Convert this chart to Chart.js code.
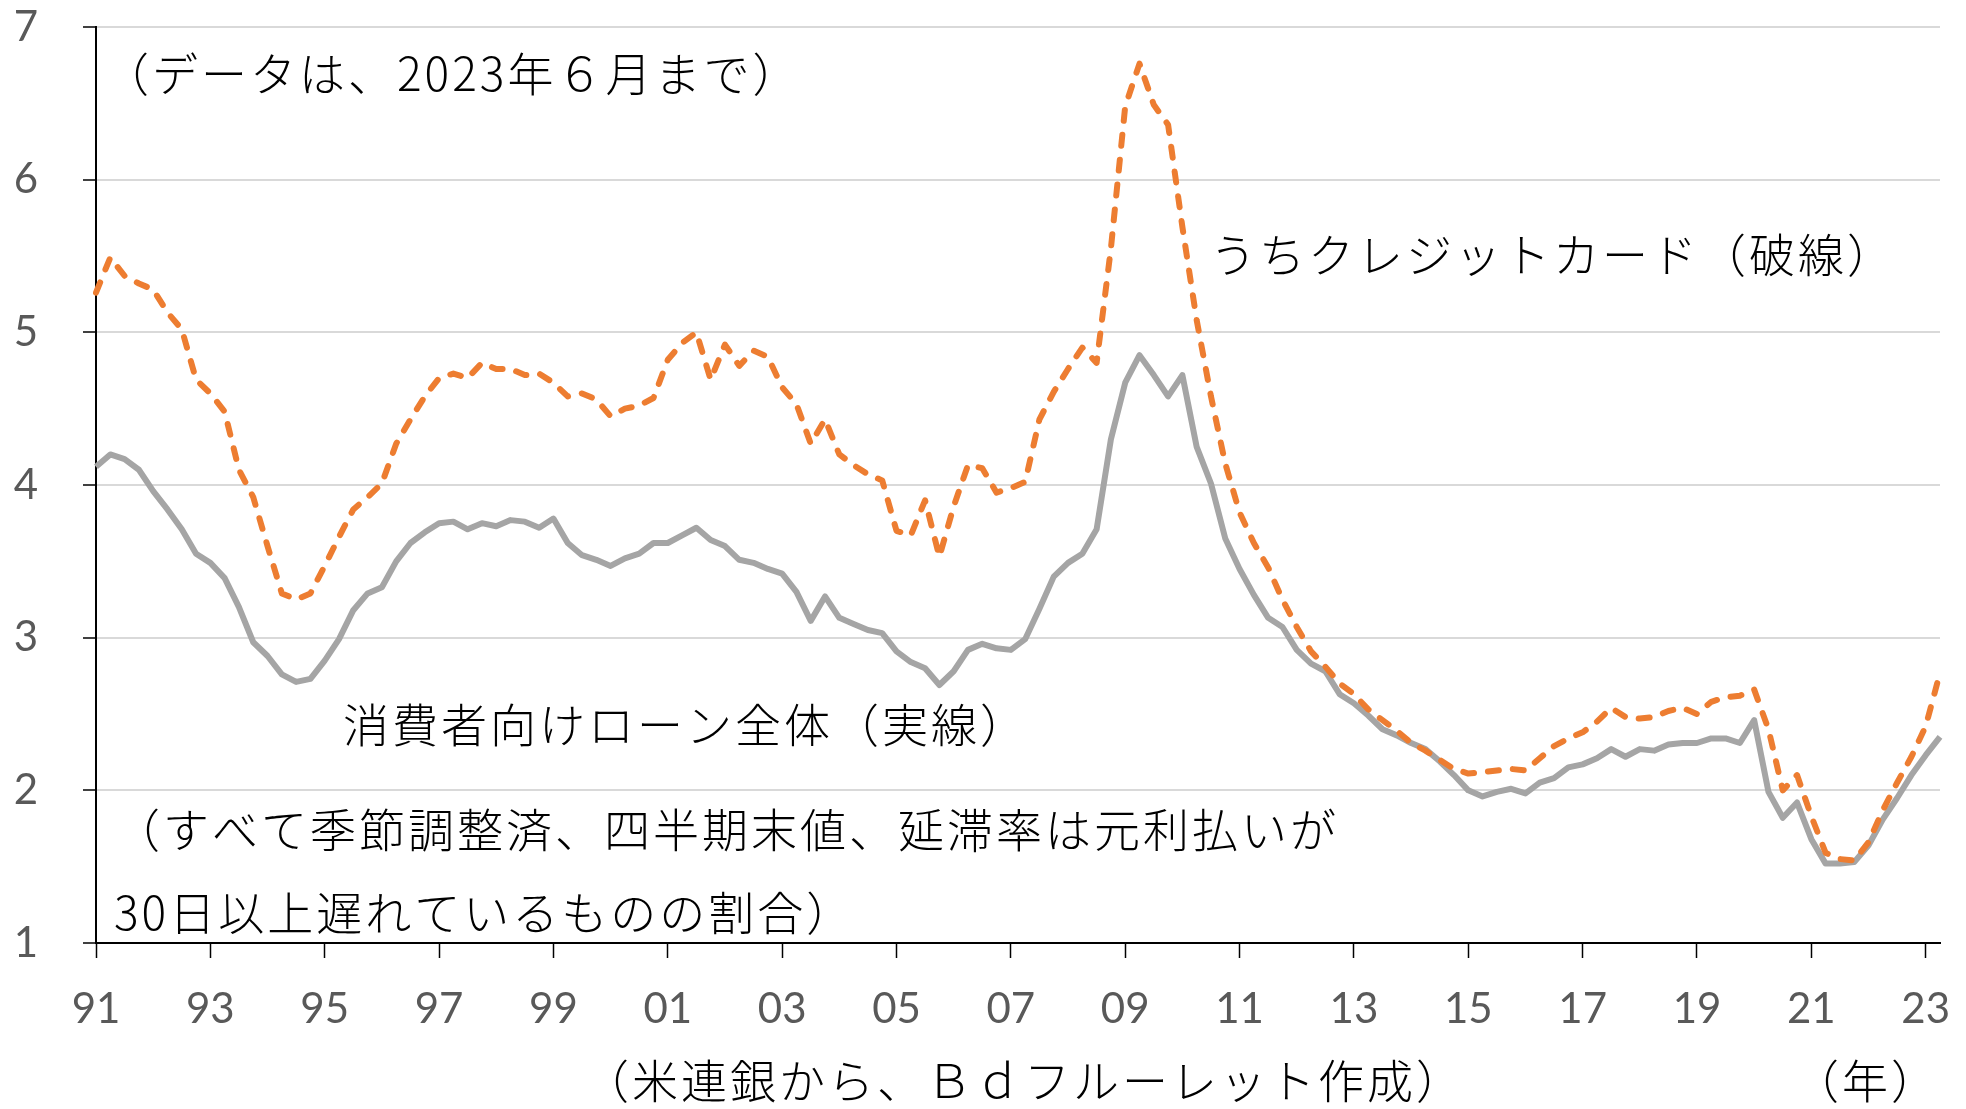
<!DOCTYPE html>
<html lang="ja">
<head>
<meta charset="utf-8">
<title>消費者向けローン延滞率</title>
<script src="https://cdn.jsdelivr.net/npm/chart.js@4.4.0/dist/chart.umd.min.js"></script>
<style>
  html, body { margin: 0; padding: 0; background: #fff; }
  #chart { display: block; }
</style>
</head>
<body>
<canvas id="chart" width="1966" height="1109"></canvas>
<script>
// quarterly, 1991Q1 .. 2023Q2
const firstYear = 1991;
const lastYear = 2023;
const lastQuarter = 2;
const quarters = [];
for (let y = firstYear; y <= lastYear; y++) {
  for (let q = 1; q <= 4; q++) {
    if (y === lastYear && q > lastQuarter) break;
    quarters.push(y + 'Q' + q);
  }
}

// tick every 2 years (8 quarters)
const yearTicks = ['91', '93', '95', '97', '99', '01', '03', '05', '07', '09', '11', '13', '15', '17', '19', '21', '23'];

// 消費者向けローン全体 (%)
const consumerLoans = [
  4.12, 4.20, 4.17, 4.10, 3.96, 3.84, 3.71, 3.55, 3.49, 3.39,
  3.20, 2.97, 2.88, 2.76, 2.71, 2.73, 2.85, 2.99, 3.18, 3.29,
  3.33, 3.50, 3.62, 3.69, 3.75, 3.76, 3.71, 3.75, 3.73, 3.77,
  3.76, 3.72, 3.78, 3.62, 3.54, 3.51, 3.47, 3.52, 3.55, 3.62,
  3.62, 3.67, 3.72, 3.64, 3.60, 3.51, 3.49, 3.45, 3.42, 3.30,
  3.11, 3.27, 3.13, 3.09, 3.05, 3.03, 2.91, 2.84, 2.80, 2.69,
  2.78, 2.92, 2.96, 2.93, 2.92, 2.99, 3.19, 3.40, 3.49, 3.55,
  3.71, 4.30, 4.67, 4.85, 4.72, 4.58, 4.72, 4.25, 4.01, 3.65,
  3.45, 3.28, 3.13, 3.07, 2.92, 2.83, 2.78, 2.63, 2.57, 2.49,
  2.40, 2.36, 2.31, 2.27, 2.19, 2.10, 2.00, 1.96, 1.99, 2.01,
  1.98, 2.05, 2.08, 2.15, 2.17, 2.21, 2.27, 2.22, 2.27, 2.26,
  2.30, 2.31, 2.31, 2.34, 2.34, 2.31, 2.46, 1.99, 1.82, 1.92,
  1.68, 1.52, 1.52, 1.53, 1.64, 1.81, 1.95, 2.10, 2.23, 2.35
];

// うちクレジットカード (%)
const creditCards = [
  5.26, 5.49, 5.37, 5.32, 5.28, 5.13, 5.02, 4.69, 4.60, 4.48,
  4.10, 3.92, 3.60, 3.29, 3.25, 3.29, 3.47, 3.66, 3.84, 3.92,
  4.01, 4.27, 4.43, 4.58, 4.70, 4.73, 4.70, 4.80, 4.76, 4.76,
  4.72, 4.73, 4.67, 4.58, 4.60, 4.56, 4.45, 4.50, 4.52, 4.57,
  4.82, 4.93, 5.00, 4.69, 4.92, 4.78, 4.88, 4.84, 4.64, 4.53,
  4.27, 4.43, 4.20, 4.13, 4.07, 4.03, 3.70, 3.67, 3.90, 3.53,
  3.86, 4.13, 4.11, 3.95, 3.98, 4.02, 4.43, 4.61, 4.76, 4.90,
  4.80, 5.55, 6.48, 6.76, 6.49, 6.36, 5.69, 5.08, 4.58, 4.14,
  3.82, 3.62, 3.46, 3.25, 3.07, 2.91, 2.81, 2.70, 2.63, 2.53,
  2.46, 2.39, 2.31, 2.26, 2.20, 2.14, 2.11, 2.12, 2.13, 2.14,
  2.13, 2.21, 2.29, 2.34, 2.38, 2.45, 2.54, 2.48, 2.47, 2.48,
  2.52, 2.54, 2.50, 2.58, 2.61, 2.62, 2.66, 2.40, 2.00, 2.10,
  1.83, 1.59, 1.55, 1.54, 1.66, 1.87, 2.05, 2.22, 2.42, 2.77
];

const JP_FONT = '"Noto Sans CJK JP", "Noto Sans", sans-serif';
const NUM_FONT = 'Lato, "Open Sans", sans-serif';

// text notes (pixel positions, left edge / vertical middle)
const notes = [
  { text: '（データは、2023年６月まで）', x: 103, y: 74 },
  { text: 'うちクレジットカード（破線）', x: 1210, y: 255 },
  { text: '消費者向けローン全体（実線）', x: 343, y: 725 },
  { text: '（すべて季節調整済、四半期末値、延滞率は元利払いが', x: 114, y: 830 },
  { text: '30日以上遅れているものの割合）', x: 114, y: 913 },
  { text: '（米連銀から、Ｂｄフルーレット作成）', x: 583, y: 1081 },
  { text: '（年）', x: 1793, y: 1081 }
];

const notesPlugin = {
  id: 'notes',
  afterDraw(chart) {
    const ctx = chart.ctx;
    ctx.save();
    ctx.font = '300 46px ' + JP_FONT;
    ctx.letterSpacing = '3px';
    ctx.fillStyle = '#000';
    ctx.textAlign = 'left';
    ctx.textBaseline = 'middle';
    notes.forEach(n => ctx.fillText(n.text, n.x, n.y));
    ctx.restore();
  }
};

new Chart(document.getElementById('chart'), {
  type: 'line',
  data: {
    labels: quarters,
    datasets: [
      {
        label: '消費者向けローン全体',
        data: consumerLoans,
        order: 1,
        borderColor: '#A5A5A5',
        borderWidth: 6,
        borderJoinStyle: 'round',
        pointRadius: 0,
        tension: 0
      },
      {
        label: 'うちクレジットカード',
        data: creditCards,
        order: 0,
        borderColor: '#ED7D31',
        borderWidth: 6,
        borderDash: [11, 14],
        borderCapStyle: 'round',
        borderJoinStyle: 'round',
        pointRadius: 0,
        tension: 0
      }
    ]
  },
  options: {
    responsive: false,
    devicePixelRatio: 1,
    animation: false,
    layout: { padding: { top: 27, right: 26, left: 0, bottom: 0 } },
    plugins: {
      legend: { display: false },
      tooltip: { enabled: false }
    },
    scales: {
      x: {
        grid: { drawOnChartArea: false, drawTicks: true, tickLength: 15, tickColor: '#000', tickWidth: 1.5 },
        border: { color: '#000', width: 2 },
        ticks: {
          autoSkip: false,
          maxRotation: 0,
          padding: 26,
          color: '#595959',
          font: { family: NUM_FONT, size: 42 },
          callback: v => yearTicks[v / 8]
        },
        afterBuildTicks: s => { s.ticks = s.ticks.filter(t => t.value % 8 === 0); },
        afterFit: s => {
          s.height = 166;
          s.paddingLeft = 0;
          s.paddingRight = 0;
        }
      },
      y: {
        min: 1,
        max: 7,
        ticks: {
          stepSize: 1,
          padding: 45,
          color: '#595959',
          font: { family: NUM_FONT, size: 42 }
        },
        grid: { color: '#D9D9D9', lineWidth: 2, tickColor: '#000', tickLength: 13, tickWidth: 1.5 },
        border: { color: '#000', width: 2 },
        afterFit: s => {
          s.width = 96;
          s.paddingTop = 0;
          s.paddingBottom = 0;
        }
      }
    }
  },
  plugins: [notesPlugin]
});
</script>
</body>
</html>
